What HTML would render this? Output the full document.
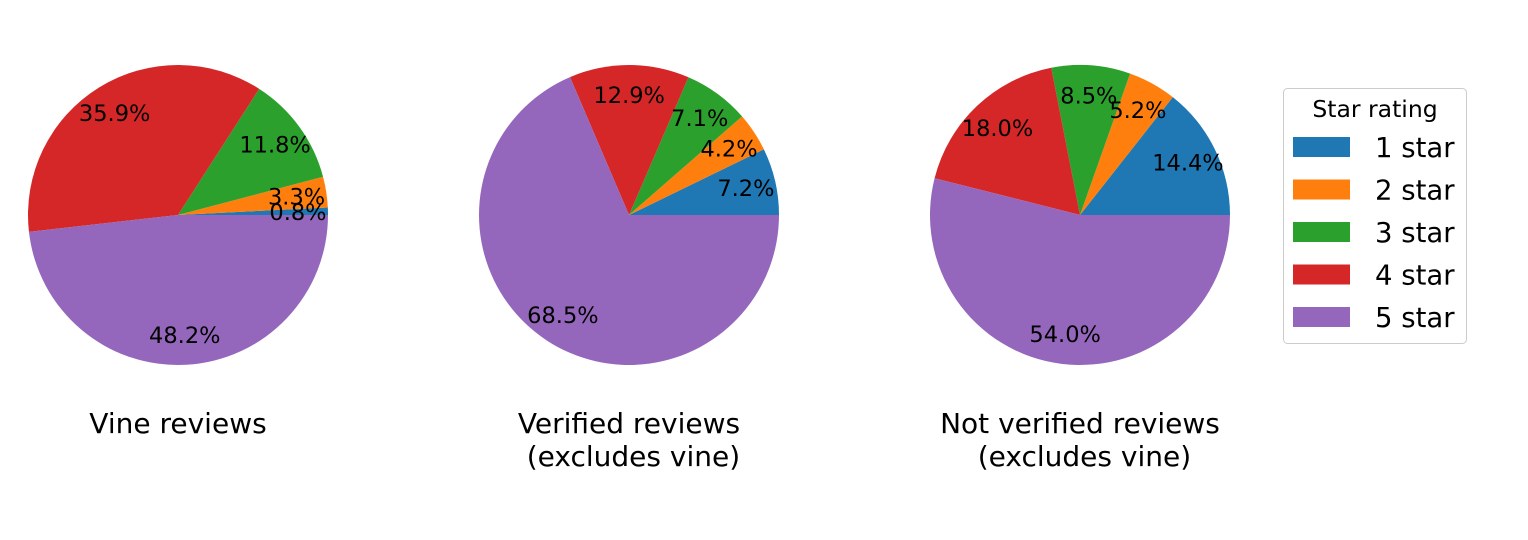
<!DOCTYPE html>
<html><head><meta charset="utf-8"><style>
body{margin:0;background:#fff}
svg{display:block;font-family:"DejaVu Sans","Liberation Sans",sans-serif}
</style></head><body>
<svg id="c" width="1528" height="540"></svg>
<script>
const categories=["1 star","2 star","3 star","4 star","5 star"];
const colors=["#1f77b4","#ff7f0e","#2ca02c","#d62728","#9467bd"];
const vineValues=[0.8,3.3,11.8,35.9,48.2];
const verifiedValues=[7.2,4.2,7.1,12.9,68.5];
const notVerifiedValues=[14.4,5.2,8.5,18.0,54.0];
const titles=[["Vine reviews"],["Verified reviews","\u00a0(excludes vine)"],["Not verified reviews","\u00a0(excludes vine)"]];
const series=[vineValues,verifiedValues,notVerifiedValues];
const NS="http://www.w3.org/2000/svg";
const svg=document.getElementById('c');
function mk(t,a,p){const e=document.createElementNS(NS,t);for(const k in a)e.setAttribute(k,a[k]);(p||svg).appendChild(e);return e;}
const R=150,cy=215;
series.forEach((vals,pi)=>{
  const cx=178+pi*451;
  const g=mk('g',{});
  
  
  const tot=vals.reduce((a,b)=>a+b,0);
  let acc=0;
  vals.forEach((v,i)=>{
    const a0=acc/tot*2*Math.PI;acc+=v;const a1=acc/tot*2*Math.PI;
    const x0=cx+R*Math.cos(a0),y0=cy-R*Math.sin(a0),x1=cx+R*Math.cos(a1),y1=cy-R*Math.sin(a1);
    const large=(a1-a0)>Math.PI?1:0;
    const p=mk('path',{d:`M${cx},${cy}L${x0},${y0}A${R},${R} 0 ${large} 0 ${x1},${y1}Z`,fill:colors[i]},g);
    
    
  });
  acc=0;
  vals.forEach((v,i)=>{
    const am=(acc+v/2)/tot*2*Math.PI;acc+=v;
    const t=mk('text',{x:cx+0.8*R*Math.cos(am),y:cy-0.8*R*Math.sin(am)+8,'text-anchor':'middle','font-size':'22.5',fill:'#000'},g);
    t.textContent=v.toFixed(1)+'%';
    
    
  });
  titles[pi].forEach((s,li)=>{
    const t=mk('text',{x:cx,y:433+li*33,'text-anchor':'middle','font-size':'28',fill:'#000'},g);
    t.textContent=s;
    
    
  });
});
const lg=mk('g',{});


mk('rect',{x:1283.5,y:88.5,width:183,height:255,rx:4,fill:'#fff',stroke:'#ccc'},lg);
const lt=mk('text',{x:1375,y:117,'text-anchor':'middle','font-size':'23.5'},lg);
lt.textContent='Star rating';


categories.forEach((c,i)=>{
  const y=147+i*42.5;
  const r=mk('rect',{x:1293,y:y-10,width:57,height:20,fill:colors[i]},lg);
  
  
  const t=mk('text',{x:1375,y:y+10,'font-size':'27.5'},lg);
  t.textContent=c;
  
  
});
</script>
</body></html>
